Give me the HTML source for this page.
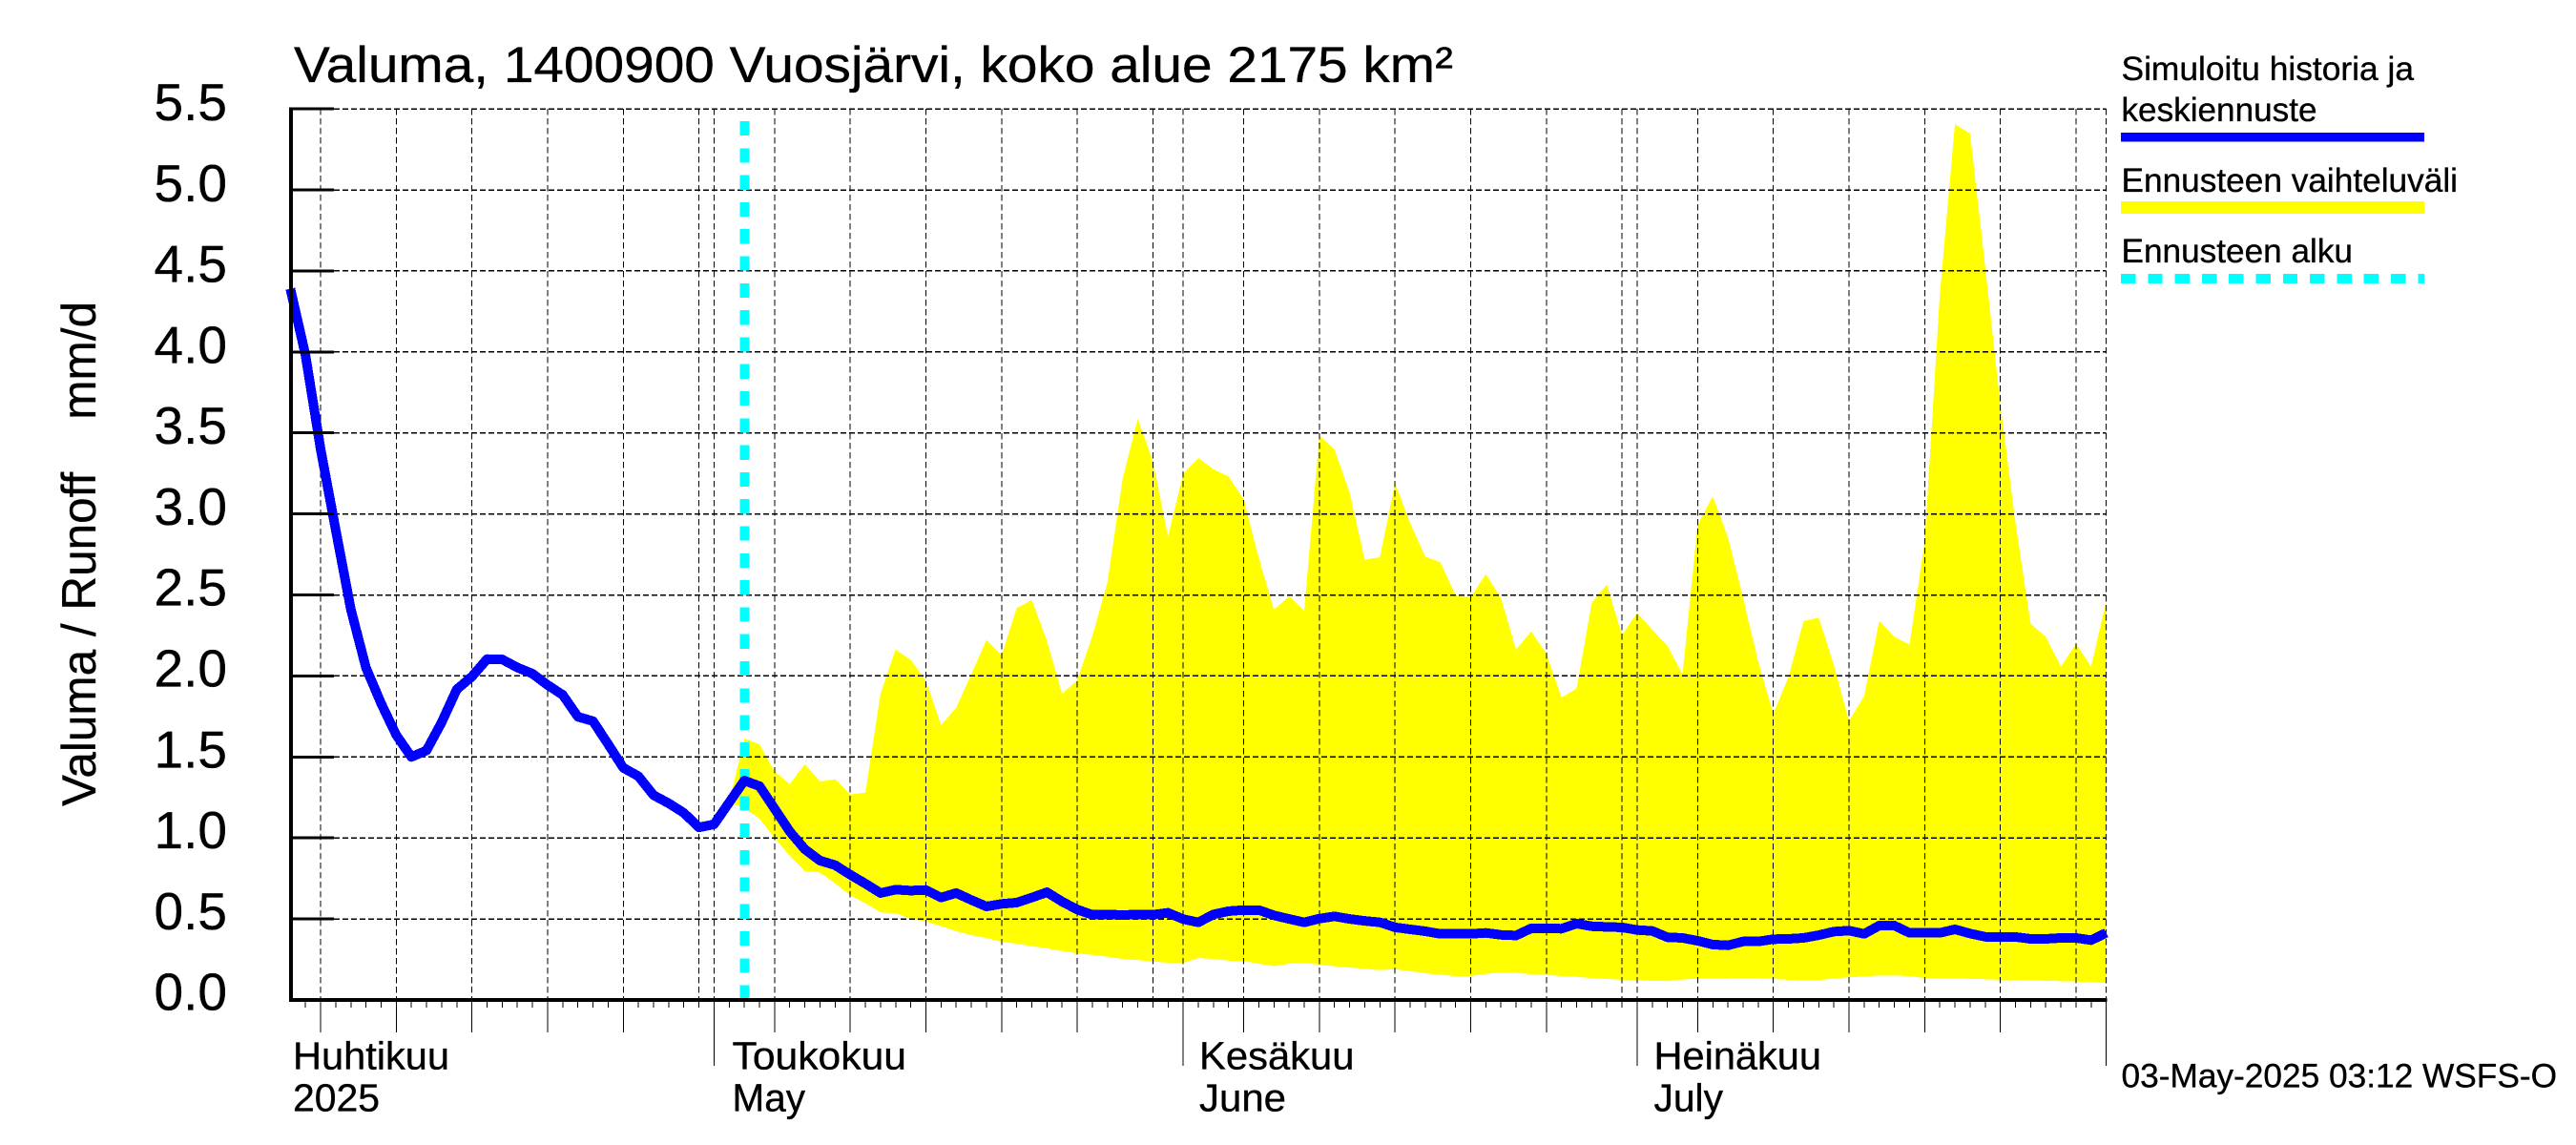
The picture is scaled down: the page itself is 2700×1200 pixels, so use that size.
<!DOCTYPE html>
<html lang="fi">
<head>
<meta charset="utf-8">
<title>Valuma, 1400900 Vuosjärvi</title>
<style>
html,body{margin:0;padding:0;background:#fff;}
svg{display:block;}
text{font-family:"Liberation Sans",sans-serif;fill:#000;stroke:#000;stroke-width:0.35px;white-space:pre;}
</style>
</head>
<body>
<svg id="chart" xmlns="http://www.w3.org/2000/svg" width="2700" height="1200" viewBox="0 0 2700 1200">
  <rect x="0" y="0" width="2700" height="1200" fill="#fff"/>
  <g id="band-layer"></g>
  <g id="grid-layer"></g>
  <line id="start-line" stroke="#00ffff" stroke-width="10" stroke-dasharray="15.2 13.1" shape-rendering="crispEdges"/>
  <g id="line-layer"></g>
  <g id="axis-layer"></g>

  <text x="308" y="86" font-size="53" textLength="1215" lengthAdjust="spacingAndGlyphs">Valuma, 1400900 Vuosjärvi, koko alue 2175 km²</text>
  <text transform="translate(100 845) rotate(-90)" x="0" y="0" font-size="50" textLength="529" lengthAdjust="spacingAndGlyphs">Valuma / Runoff    mm/d</text>

  <g>
    <text x="2223.5" y="84" font-size="35" textLength="306.5" lengthAdjust="spacingAndGlyphs">Simuloitu historia ja</text>
    <text x="2223.5" y="127" font-size="35" textLength="205" lengthAdjust="spacingAndGlyphs">keskiennuste</text>
    <rect x="2223" y="139" width="318" height="9.5" fill="#0000ff" shape-rendering="crispEdges"/>
    <text x="2223.5" y="201" font-size="35" textLength="352.5" lengthAdjust="spacingAndGlyphs">Ennusteen vaihteluväli</text>
    <rect x="2223" y="211" width="318" height="13" fill="#ffff00" shape-rendering="crispEdges"/>
    <text x="2223.5" y="275" font-size="35" textLength="242.5" lengthAdjust="spacingAndGlyphs">Ennusteen alku</text>
    <line x1="2223" y1="292" x2="2541" y2="292" stroke="#00ffff" stroke-width="10" stroke-dasharray="15.4 12.9" shape-rendering="crispEdges"/>
  </g>

  <text x="307" y="1120.5" font-size="41" textLength="164" lengthAdjust="spacingAndGlyphs">Huhtikuu</text>
  <text x="307" y="1164.5" font-size="41" textLength="91" lengthAdjust="spacingAndGlyphs">2025</text>
  <text x="767.5" y="1120.5" font-size="41" textLength="182.5" lengthAdjust="spacingAndGlyphs">Toukokuu</text>
  <text x="767.5" y="1164.5" font-size="41" textLength="76.5" lengthAdjust="spacingAndGlyphs">May</text>
  <text x="1257" y="1120.5" font-size="41" textLength="162.5" lengthAdjust="spacingAndGlyphs">Kesäkuu</text>
  <text x="1257" y="1164.5" font-size="41" textLength="91" lengthAdjust="spacingAndGlyphs">June</text>
  <text x="1733.5" y="1120.5" font-size="41" textLength="175.5" lengthAdjust="spacingAndGlyphs">Heinäkuu</text>
  <text x="1733.5" y="1164.5" font-size="41" textLength="72.5" lengthAdjust="spacingAndGlyphs">July</text>

  <text x="2223.5" y="1139.5" font-size="35" textLength="456.5" lengthAdjust="spacingAndGlyphs">03-May-2025 03:12 WSFS-O</text>
</svg>

<script>
// Day numbers count from 1 April 2025 (day 0).
const yTickValues = [0, 0.5, 1, 1.5, 2, 2.5, 3, 3.5, 4, 4.5, 5, 5.5];
const yTickLabels = ['0.0', '0.5', '1.0', '1.5', '2.0', '2.5', '3.0', '3.5', '4.0', '4.5', '5.0', '5.5'];
const gridDays = [4, 9, 14, 19, 24, 29, 30, 34, 39, 44, 49, 54, 59, 61, 65, 70, 75, 80, 85, 90, 91, 95, 100, 105, 110, 115, 120, 122];
const mediumTickDays = [4, 9, 14, 19, 24, 34, 39, 44, 49, 54, 65, 70, 75, 80, 85, 95, 100, 105, 110, 115];
const monthTickDays = [30, 61, 91, 122];
const axisStartDay = 2.04;
const axisEndDay = 122;
const forecastStartDay = 32;
const simulatedStartDay = 2;
const simulatedValues = [
  4.39, 3.98, 3.40, 2.90, 2.41, 2.05, 1.83, 1.635, 1.50, 1.54,
  1.714, 1.917, 1.996, 2.104, 2.102, 2.052, 2.014, 1.944, 1.883, 1.748,
  1.721, 1.579, 1.433, 1.381, 1.264, 1.214, 1.155, 1.065, 1.084, 1.219,
  1.354, 1.32, 1.18, 1.04, 0.93, 0.86, 0.832, 0.773, 0.718, 0.66,
  0.681, 0.675, 0.679, 0.632, 0.66, 0.617, 0.577, 0.593, 0.601, 0.632,
  0.665, 0.607, 0.558, 0.526, 0.528, 0.524, 0.528, 0.526, 0.538, 0.499,
  0.479, 0.528, 0.548, 0.555, 0.555, 0.522, 0.50, 0.479, 0.502, 0.516,
  0.50, 0.488, 0.479, 0.448, 0.436, 0.424, 0.408, 0.408, 0.408, 0.414,
  0.402, 0.398, 0.442, 0.442, 0.44, 0.471, 0.455, 0.451, 0.448, 0.432,
  0.426, 0.387, 0.383, 0.365, 0.342, 0.337, 0.361, 0.361, 0.375, 0.377,
  0.383, 0.40, 0.422, 0.428, 0.408, 0.459, 0.459, 0.414, 0.414, 0.414,
  0.436, 0.41, 0.39, 0.389, 0.389, 0.377, 0.377, 0.383, 0.383, 0.369,
  0.414
];
const rangeStartDay = 31;
const rangeUpper = [
  1.22, 1.614, 1.578, 1.41, 1.333, 1.455, 1.349, 1.362, 1.268, 1.28,
  1.892, 2.163, 2.098, 1.971, 1.696, 1.804, 2.01, 2.222, 2.128, 2.419,
  2.468, 2.216, 1.889, 1.975, 2.246, 2.58, 3.217, 3.587, 3.326, 2.86,
  3.247, 3.345, 3.276, 3.231, 3.09, 2.727, 2.409, 2.491, 2.403, 3.483,
  3.40, 3.129, 2.717, 2.733, 3.188, 2.943, 2.737, 2.701, 2.497, 2.485,
  2.629, 2.481, 2.163, 2.275, 2.138, 1.867, 1.922, 2.452, 2.564, 2.252,
  2.389, 2.285, 2.187, 2.01, 2.933, 3.11, 2.854, 2.481, 2.089, 1.767,
  1.993, 2.339, 2.359, 2.067, 1.721, 1.876, 2.339, 2.242, 2.193, 2.828,
  4.352, 5.406, 5.348, 4.528, 3.678, 2.945, 2.322, 2.242, 2.058, 2.198,
  2.058, 2.462
];
const rangeLower = [
  1.22, 1.186, 1.119, 0.999, 0.891, 0.794, 0.787, 0.719, 0.647, 0.596,
  0.541, 0.535, 0.50, 0.485, 0.455, 0.424, 0.40, 0.382, 0.359, 0.347,
  0.332, 0.318, 0.302, 0.287, 0.278, 0.267, 0.253, 0.246, 0.237, 0.23,
  0.228, 0.259, 0.253, 0.243, 0.24, 0.224, 0.208, 0.224, 0.228, 0.218,
  0.208, 0.20, 0.192, 0.184, 0.19, 0.178, 0.165, 0.155, 0.147, 0.147,
  0.161, 0.169, 0.167, 0.159, 0.155, 0.147, 0.143, 0.135, 0.13, 0.124,
  0.122, 0.118, 0.116, 0.126, 0.132, 0.132, 0.134, 0.135, 0.135, 0.13,
  0.124, 0.12, 0.122, 0.132, 0.14, 0.145, 0.151, 0.151, 0.147, 0.135,
  0.134, 0.134, 0.13, 0.128, 0.124, 0.124, 0.122, 0.118, 0.116, 0.114,
  0.11, 0.104
];

const SVG_NS = 'http://www.w3.org/2000/svg';
const xScale = function (day) { return 272.6 + 15.861 * day; };
const yScale = function (value) { return 1048 - 169.8 * value; };
const yLabelScale = function (value) { return 1058.6 - 169.55 * value; };
const round2 = function (n) { return Math.round(n * 100) / 100; };

function make(tag, parent) {
  const el = document.createElementNS(SVG_NS, tag);
  parent.appendChild(el);
  return el;
}
function segment(el, x1, y1, x2, y2, width, dash) {
  el.setAttribute('x1', round2(x1));
  el.setAttribute('y1', round2(y1));
  el.setAttribute('x2', round2(x2));
  el.setAttribute('y2', round2(y2));
  el.setAttribute('stroke', '#000');
  el.setAttribute('stroke-width', width);
  el.setAttribute('shape-rendering', 'crispEdges');
  if (dash) el.setAttribute('stroke-dasharray', dash);
}

const bandLayer = document.getElementById('band-layer');
const gridLayer = document.getElementById('grid-layer');
const lineLayer = document.getElementById('line-layer');
const axisLayer = document.getElementById('axis-layer');

// Forecast range polygon
const bandPts = [];
rangeUpper.forEach(function (v, i) {
  bandPts.push(round2(xScale(rangeStartDay + i)) + ',' + round2(yScale(v)));
});
for (let i = rangeLower.length - 1; i >= 0; i--) {
  bandPts.push(round2(xScale(rangeStartDay + i)) + ',' + round2(yScale(rangeLower[i])));
}
const band = make('polygon', bandLayer);


band.setAttribute('points', bandPts.join(' '));
band.setAttribute('fill', '#ffff00');
band.setAttribute('shape-rendering', 'crispEdges');

// Horizontal grid
yTickValues.forEach(function (v) {
  const g = make('line', gridLayer);
  
  
  segment(g, xScale(axisStartDay), yScale(v), xScale(axisEndDay), yScale(v), 1.5, '6 3');
});

// Vertical grid
gridDays.forEach(function (d) {
  const g = make('line', gridLayer);
  
  
  segment(g, xScale(d), yScale(5.5), xScale(d), yScale(0), 1, '6.5 3.5');
});

// Forecast start
const startLine = document.getElementById('start-line');
startLine.setAttribute('x1', round2(xScale(forecastStartDay)) + 0.5);
startLine.setAttribute('x2', round2(xScale(forecastStartDay)) + 0.5);
startLine.setAttribute('y1', 127);
startLine.setAttribute('y2', round2(yScale(0)));

// Simulated line
const linePts = simulatedValues.map(function (v, i) {
  return round2(xScale(simulatedStartDay + i)) + ',' + round2(yScale(v));
});
const simLine = make('polyline', lineLayer);


simLine.setAttribute('points', linePts.join(' '));
simLine.setAttribute('fill', 'none');
simLine.setAttribute('stroke', '#0000ff');
simLine.setAttribute('stroke-width', '10');
simLine.setAttribute('stroke-linejoin', 'round');
simLine.setAttribute('shape-rendering', 'crispEdges');

// Axis lines
const yAxis = make('line', axisLayer);


segment(yAxis, 305, yScale(5.5) - 1.5, 305, yScale(0) + 2, 4.4);
const xAxis = make('line', axisLayer);


segment(xAxis, 303, yScale(0), xScale(axisEndDay) + 1, yScale(0), 4.4);

// Y ticks and labels
yTickValues.forEach(function (v, i) {
  const t = make('line', axisLayer);
  
  
  segment(t, 305, yScale(v), 350, yScale(v), 3);
  const lbl = make('text', axisLayer);
  
  
  lbl.setAttribute('x', 238);
  lbl.setAttribute('y', round2(yLabelScale(v)));
  lbl.setAttribute('text-anchor', 'end');
  lbl.setAttribute('font-size', 55);
  lbl.textContent = yTickLabels[i];
});

// X ticks: one per day, longer for 5-day and month marks
for (let d = Math.ceil(axisStartDay); d <= axisEndDay; d++) {
  let bottom = 1056;
  if (mediumTickDays.indexOf(d) >= 0) bottom = 1082;
  if (monthTickDays.indexOf(d) >= 0) bottom = 1117;
  const t = make('line', axisLayer);
  
  
  segment(t, xScale(d), yScale(0), xScale(d), bottom, 1);
}
</script>
</body>
</html>
